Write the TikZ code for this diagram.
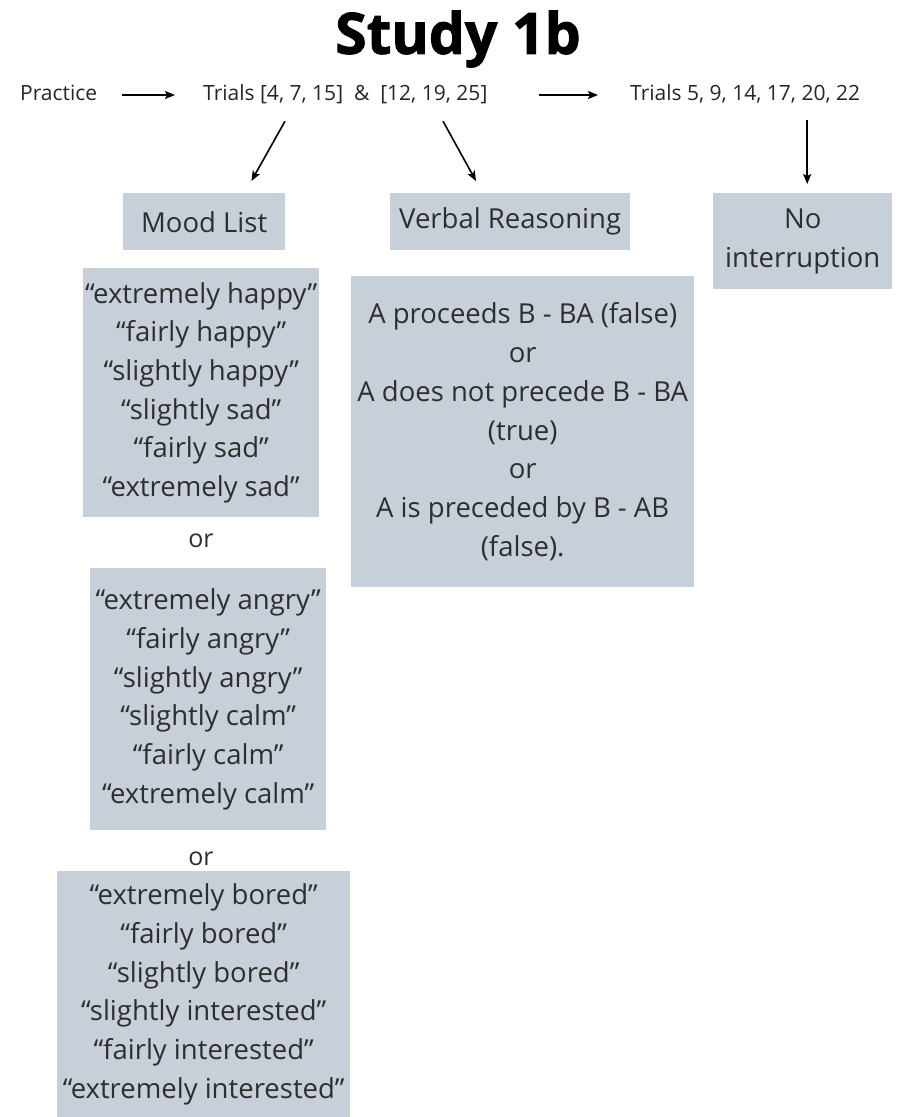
\documentclass[tikz,border=0pt]{standalone}
\usepackage{fontspec}
\setmainfont{Open Sans}
\newfontfamily\headfont[BoldFeatures={FakeBold=1.6}]{Open Sans}
\usetikzlibrary{arrows.meta,calc}
\definecolor{panelfill}{HTML}{C7D0D9}
\definecolor{ink}{HTML}{2E2E2E}
\tikzset{
  panel/.style={fill=panelfill, draw=none, inner sep=0pt, anchor=north west,
    align=center, text=ink, font=\fontsize{27.5}{38.7}\selectfont},
  rowtext/.style={inner sep=0pt, anchor=west, text=black!85,
    font=\fontsize{21}{24}\selectfont, text height=15pt, text depth=5pt},
  ortext/.style={inner sep=0pt, text=ink, font=\fontsize{25}{28}\selectfont},
  flow/.style={-{Stealth[length=10pt,width=8pt,inset=2pt]}, line width=1.6pt, black},
}
\begin{document}
\begin{tikzpicture}[x=1pt,y=-1pt]
  \useasboundingbox[fill=white] (0,0) rectangle (903,1117);

  % heading
  \node (title) at (458,39) {\headfont\fontsize{57}{60}\selectfont\bfseries Study 1b};

  % trial sequence
  \node[rowtext] (practice) at (20,95) {Practice};
  \node[rowtext] (trialsA) at (203,95) {Trials [4, 7, 15]\ \ \&\ \ [12, 19, 25]};
  \node[rowtext] (trialsB) at (630,95) {Trials 5, 9, 14, 17, 20, 22};

  % interruption types
  \node[panel, minimum width=162pt, minimum height=57pt] (moodhead) at (123,193) {Mood List};
  \node[panel, minimum width=240pt, minimum height=57pt] (verbhead) at (390,193) {Verbal Reasoning};
  \node[panel, minimum width=179pt, minimum height=96pt] (nointer) at (713,193) {No\\interruption};

  % mood lists
  \node[panel, minimum width=236pt, minimum height=249pt] (moodA) at (83,268)
    {“extremely happy”\\“fairly happy”\\“slightly happy”\\“slightly sad”\\“fairly sad”\\“extremely sad”};
  \node[ortext] (orA) at (201,541) {or};
  \node[panel, minimum width=236pt, minimum height=262pt] (moodB) at (90,568)
    {“extremely angry”\\“fairly angry”\\“slightly angry”\\“slightly calm”\\“fairly calm”\\“extremely calm”};
  \node[ortext] (orB) at (201,859) {or};
  \node[panel, minimum width=293pt, minimum height=246pt] (moodC) at (57,871)
    {“extremely bored”\\“fairly bored”\\“slightly bored”\\“slightly interested”\\“fairly interested”\\“extremely interested”};

  % verbal reasoning items
  \node[panel, minimum width=343pt, minimum height=311pt] (verbal) at (351,276)
    {A proceeds B - BA (false)\\or\\A does not precede B - BA\\(true)\\or\\A is preceded by B - AB\\(false).};

  % connectors
  \draw[flow, shorten <=25pt, shorten >=28pt] (practice.east) -- (trialsA.west);
  \draw[flow, shorten <=51pt, shorten >=32pt] (trialsA.east) -- (trialsB.west);
  \draw[flow] ($(trialsA.south west)+(82,16)$) -- ($(moodhead.north east)+(-34,-12)$);
  \draw[flow] ($(trialsA.south west)+(240,16)$) -- ($(verbhead.north west)+(86,-12)$);
  \draw[flow] ($(nointer.north)+(4.5,-73)$) -- ($(nointer.north)+(4.5,-9)$);
\end{tikzpicture}
\end{document}
